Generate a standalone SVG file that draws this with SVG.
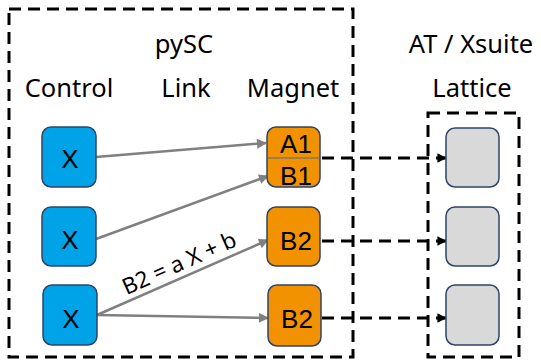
<svg xmlns="http://www.w3.org/2000/svg" width="541" height="363" viewBox="0 0 541 363">
<defs>
<style>
.frame{fill:none;stroke:#000;stroke-width:3;stroke-dasharray:12 7}
.hdr{font-family:"Noto Sans","DejaVu Sans",sans-serif;font-size:25.5px;fill:#000;text-anchor:middle}
.ctl{fill:#00A2E8;stroke:#2F4468;stroke-width:1.5}
.mag{fill:#F39200;stroke:#2F4468;stroke-width:1.5}
.lat{fill:#D9D9D9;stroke:#2F4468;stroke-width:1.5}
.lbl{font-family:"Liberation Sans",Arial,sans-serif;font-size:26px;fill:#000;text-anchor:middle}
.link{stroke:#808080;stroke-width:2.5;fill:none;marker-end:url(#ga)}
.map{stroke:#000;stroke-width:3;fill:none;stroke-dasharray:12 7;marker-end:url(#ba)}
.eq{font-family:"Noto Sans","DejaVu Sans",sans-serif;font-size:22.5px;fill:#000;text-anchor:middle}
</style>
<marker id="ga" viewBox="0 0 10 10" refX="9" refY="5" markerWidth="4.4" markerHeight="4" markerUnits="strokeWidth" orient="auto"><path d="M0,0 L10,5 L0,10 z" fill="#808080"/></marker>
<marker id="ba" viewBox="0 0 10 10" refX="9" refY="5" markerWidth="3.5" markerHeight="3.2" markerUnits="strokeWidth" orient="auto"><path d="M0,0 L10,5 L0,10 z" fill="#000"/></marker>
</defs>
<rect width="541" height="363" fill="#fff"/>
<g id="frames">
<rect class="frame" x="9" y="9" width="344" height="348"/>
<rect class="frame" x="428" y="113" width="91" height="244"/>
</g>
<g id="headers">
<text class="hdr" x="184" y="53">pySC</text>
<text class="hdr" x="471" y="53">AT / Xsuite</text>
<text class="hdr" x="69" y="97">Control</text>
<text class="hdr" x="186" y="97">Link</text>
<text class="hdr" x="293" y="97">Magnet</text>
<text class="hdr" x="472" y="97">Lattice</text>
</g>
<g id="connectors">
<line class="link" x1="96" y1="157" x2="266" y2="143"/>
<line class="link" x1="96" y1="239" x2="268" y2="176"/>
<line class="link" x1="97" y1="315" x2="268" y2="240"/>
<line class="link" x1="97" y1="315" x2="268" y2="318"/>
<line class="map" x1="322" y1="158" x2="446" y2="158"/>
<line class="map" x1="322" y1="241" x2="446" y2="241"/>
<line class="map" x1="322" y1="318" x2="446" y2="318"/>
<text class="eq" transform="translate(179,263) rotate(-24)" x="0" y="8">B2 = a X + b</text>
</g>
<g id="control1"><rect class="ctl" x="42" y="127" width="54" height="60" rx="9"/><text class="lbl" x="70" y="168">X</text></g>
<g id="control2"><rect class="ctl" x="42" y="207" width="54" height="59" rx="9"/><text class="lbl" x="70" y="249">X</text></g>
<g id="control3"><rect class="ctl" x="43" y="285" width="54" height="60" rx="9"/><text class="lbl" x="71" y="328">X</text></g>
<g id="magnetA1B1"><rect class="mag" x="267" y="127" width="53" height="60" rx="9"/><line x1="267" y1="158" x2="320" y2="158" stroke="#4A6A9A" stroke-width="1"/><text class="lbl" x="296" y="153">A1</text><text class="lbl" x="296" y="185">B1</text></g>
<g id="magnetB2a"><rect class="mag" x="267" y="207" width="53" height="59" rx="9"/><text class="lbl" x="296" y="250">B2</text></g>
<g id="magnetB2b"><rect class="mag" x="268" y="285" width="53" height="61" rx="9"/><text class="lbl" x="297" y="328">B2</text></g>
<g id="lattice1"><rect class="lat" x="446" y="128" width="53" height="59" rx="9"/></g>
<g id="lattice2"><rect class="lat" x="446" y="207" width="53" height="59" rx="9"/></g>
<g id="lattice3"><rect class="lat" x="446" y="285" width="53" height="60" rx="9"/></g>
</svg>
